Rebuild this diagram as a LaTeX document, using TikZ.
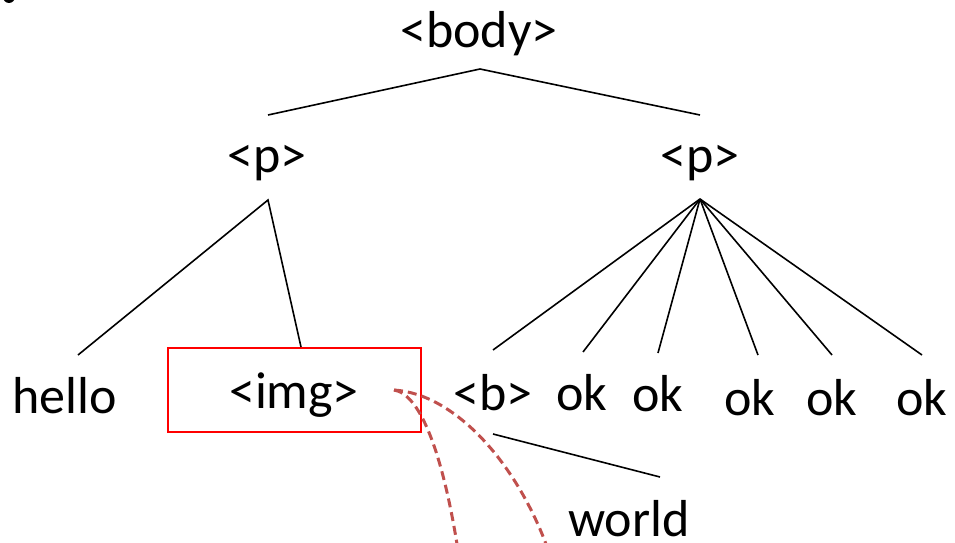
\documentclass[tikz,border=0pt]{standalone}
\usepackage{fontspec}
\setmainfont{Carlito}
\definecolor{dashred}{HTML}{C0504D}
\begin{document}
\begin{tikzpicture}[x=1pt,y=1pt,
  lbl/.style={anchor=base,inner sep=0pt,font=\fontsize{52}{60}\selectfont},
  edge/.style={line width=1.6pt,black},
  link/.style={line width=3pt,dashred,dash pattern=on 9pt off 5pt}]
\useasboundingbox (0,0) rectangle (955,542);
\fill (9,545) circle (6);
% labels
\node[lbl] (body) at (479,494) {<body>};
\node[lbl] (pL) at (267,370) {<p>};
\node[lbl] (pR) at (700,370) {<p>};
\node[lbl] (hello) at (64.5,129) {hello};
\node[lbl] (img) at (294,134) {<img>};
\node[lbl] (b) at (493,132) {<b>};
\node[lbl] (ok1) at (582,132) {ok};
\node[lbl] (ok2) at (658,131) {ok};
\node[lbl] (ok3) at (750,127) {ok};
\node[lbl] (ok4) at (832,127) {ok};
\node[lbl] (ok5) at (922,127) {ok};
\node[lbl] (world) at (629,6) {world};
% highlight box
\draw[red,line width=1.8pt] (168,110) rectangle (421,194);
% connector end points
\coordinate (bodyS) at (480,473);
\coordinate (pLN) at (268,427);
\coordinate (pRN) at (700,427);
\coordinate (pLS) at (268,342);
\coordinate (pRS) at (700,343);
\coordinate (helloN) at (78,187);
\coordinate (imgN) at (301,195);
\coordinate (bN) at (493,192);
\coordinate (ok1N) at (583,190);
\coordinate (ok2N) at (658,189);
\coordinate (ok3N) at (758,187);
\coordinate (ok4N) at (832,187);
\coordinate (ok5N) at (922,187);
\coordinate (bS) at (493,108);
\coordinate (worldN) at (660,65);
\coordinate (imgE) at (394,152);
\coordinate (far1) at (457,-2);
\coordinate (far2) at (546,-2);
% tree edges
\draw[edge] (pLN) -- (bodyS) -- (pRN);
\draw[edge] (helloN) -- (pLS) -- (imgN);
\foreach \t in {bN,ok1N,ok2N,ok3N,ok4N,ok5N} \draw[edge] (pRS) -- (\t);
\draw[edge] (bS) -- (worldN);
% dashed links
\draw[link] (imgE) .. controls (420,148) and (442,90) .. (far1);
\draw[link] (imgE) .. controls (455,148) and (515,80) .. (far2);
\end{tikzpicture}
\end{document}
